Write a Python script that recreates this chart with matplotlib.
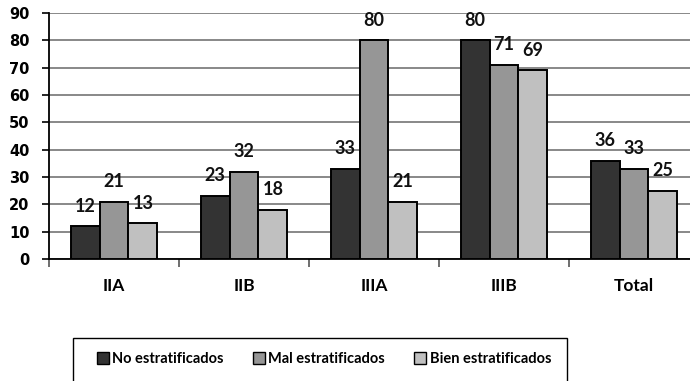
import numpy as np
import matplotlib
matplotlib.use("Agg")
import matplotlib.pyplot as plt
from matplotlib.patches import Rectangle

categories = ["IIA", "IIB", "IIIA", "IIIB", "Total"]
series_names = ["No estratificados", "Mal estratificados", "Bien estratificados"]
no_estratificados = [12, 23, 33, 80, 36]
mal_estratificados = [21, 32, 80, 71, 33]
bien_estratificados = [13, 18, 21, 69, 25]
y_ticks = [0, 10, 20, 30, 40, 50, 60, 70, 80, 90]

colors = ["#333333", "#969696", "#c0c0c0"]
font = ["Lato", "DejaVu Sans"]
tick_font = ["DejaVu Sans"]

W, H = 690, 381
fig = plt.figure(figsize=(W / 100, H / 100), dpi=100)
ax = fig.add_axes([49 / W, 1 - 259 / H, 650 / W, 246 / H])

x = np.arange(len(categories))
bw = 0.223
values = [no_estratificados, mal_estratificados, bien_estratificados]
for i, (vals, c) in enumerate(zip(values, colors)):
    pos = x + (i - 1) * bw
    ax.bar(pos, vals, width=bw, color=c, edgecolor="black", linewidth=1.4, zorder=3)
    for xi, v in zip(pos, vals):
        ax.annotate(f"{v}", (xi, v), xytext=(0, 14.5), textcoords="offset points",
                    ha="center", va="center", fontsize=13, fontweight="bold",
                    family=font, color="#111111", zorder=4)

ax.set_xlim(-0.5, len(categories) - 0.5)
ax.set_ylim(0, 90)
ax.set_yticks(y_ticks)
ax.yaxis.grid(True, color="#7f7f7f", linewidth=1.3, zorder=0)
ax.set_axisbelow(True)

ax.set_xticks(x)
ax.set_xticklabels(categories)
ax.set_xticks(np.arange(-0.5, len(categories) + 0.5, 1), minor=True)
ax.tick_params(axis="x", which="major", length=0, pad=14)
ax.tick_params(axis="x", which="minor", length=6, width=1.2, color="#555555")
ax.tick_params(axis="y", length=5, width=1.2, pad=9)

for lab in ax.get_xticklabels():
    lab.set_fontfamily(font)
    lab.set_fontweight("bold")
    lab.set_fontsize(12.5)
for lab in ax.get_yticklabels():
    lab.set_fontfamily(tick_font)
    lab.set_fontweight("bold")
    lab.set_fontsize(10.5)

for s in ["top", "right"]:
    ax.spines[s].set_visible(False)
ax.spines["left"].set_linewidth(1.3)
ax.spines["bottom"].set_linewidth(1.3)

# legend frame open at the bottom edge
frame = Rectangle((73 / W, -0.05), (567 - 73) / W, 0.05 + (1 - 338 / H),
                  transform=fig.transFigure, fill=False, edgecolor="black",
                  linewidth=1.0, clip_on=False)
fig.add_artist(frame)

handles = [Rectangle((0, 0), 1, 1, facecolor=c, edgecolor="black", linewidth=1.0)
           for c in colors]
fig.legend(handles, series_names, loc="center", ncol=3,
           bbox_to_anchor=(324 / W, 1 - 359 / H), frameon=False,
           handlelength=0.8, handleheight=0.8, handletextpad=0.25,
           columnspacing=2.0, prop={"family": font, "size": 10.5, "weight": "bold"})

fig.savefig("out.png", dpi=100)
